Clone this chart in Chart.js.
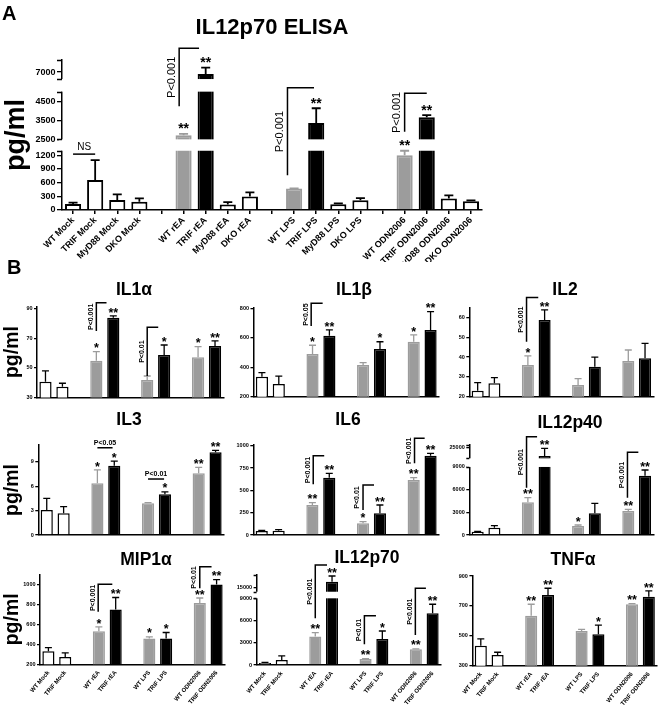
<!DOCTYPE html>
<html>
<head>
<meta charset="utf-8">
<script src="https://cdn.jsdelivr.net/npm/chart.js@4.4.1/dist/chart.umd.min.js"></script>
<style>
  body { margin: 0; background: #fff; }
  #fig { position: relative; width: 661px; height: 708px; overflow: hidden; background: #fff; }
  #fig canvas { position: absolute; }
</style>
</head>
<body>
<div id="fig"></div>
<script>
// =================== DATA: PANEL A (IL12p70 ELISA) ===================
const elisaLabels = ['WT Mock', 'TRIF Mock', 'MyD88 Mock', 'DKO Mock', '',
  'WT rEA', 'TRIF rEA', 'MyD88 rEA', 'DKO rEA', '',
  'WT LPS', 'TRIF LPS', 'MyD88 LPS', 'DKO LPS', '',
  'WT ODN2006', 'TRIF ODN2006', 'MyD88 ODN2006', 'DKO ODN2006'];
const elisaGroup = ['ctrl', 'ctrl', 'ctrl', 'ctrl', null, 'wt', 'trif', 'ctrl', 'ctrl', null,
  'wt', 'trif', 'ctrl', 'ctrl', null, 'wt', 'trif', 'ctrl', 'ctrl'];
const elisaMean = [131, 657, 219, 182, null, 2720, 6900, 118, 298, null, 470, 3367, 125, 215, null, 1200, 3670, 255, 190];
const elisaSem = [29, 438, 125, 74, null, 70, 340, 53, 90, null, 5, 783, 20, 45, null, 100, 120, 65, 20];
const elisaStars = ['', '', '', '', '', '**', '**', '', '', '', '', '**', '', '', '', '**', '**', '', ''];
const elisaTicks = [0, 300, 600, 900, 1200, 2500, 3500, 4500, 7000];
// significance brackets: [from category, to category, low value, high value, label]
const elisaBrackets = [[4.8, 5.7, 4255, 8260, 'P<0.001'], [9.7, 10.9, 760, 5520, 'P<0.001'], [15, 16, 2904, 4947, 'P<0.001']];
const elisaBars = [[0, 1, 1226, 'NS']];

// =================== DATA: PANEL B (cytokines) ===================
const cytoLabels = ['WT Mock', 'TRIF Mock', '', 'WT rEA', 'TRIF rEA', '', 'WT LPS', 'TRIF LPS', '', 'WT ODN2006', 'TRIF ODN2006'];
const cytoGroup = ['ctrl', 'ctrl', null, 'wt', 'trif', null, 'wt', 'trif', null, 'wt', 'trif'];

const il1aMean = [40.6, 37.3, null, 54.8, 83.8, null, 41.8, 58.7, null, 57.1, 64.7];
const il1aSem = [7.3, 2.3, null, 6.1, 1.2, null, 2.7, 6.7, null, 7.2, 3.4];
const il1aStars = ['', '', '', '*', '**', '', '', '*', '', '*', '**'];
const il1aTicks = [30, 50, 70, 90];
const il1aBrackets = [[3, 3.6, 74.8, 93.9, 'P<0.001'], [6, 6.65, 44.5, 77.3, 'P<0.01']];

const il1bMean = [336, 286, null, 490, 614, null, 415, 524, null, 573, 653];
const il1bSem = [27, 54, null, 59, 39, null, 16, 49, null, 46, 124];
const il1bStars = ['', '', '', '*', '**', '', '', '*', '', '*', '**'];
const il1bTicks = [200, 400, 600, 800];
const il1bBrackets = [[2.92, 3.6, 680, 834, 'P<0.05']];

const il2Mean = [23, 26.8, null, 36, 58.8, null, 25.9, 35.2, null, 38.1, 39.4];
const il2Sem = [4.1, 2.8, null, 4.6, 5.1, null, 3.2, 4.8, null, 5.5, 7.6];
const il2Stars = ['', '', '', '*', '**', '', '', '', '', '', ''];
const il2Ticks = [20, 30, 40, 50, 60];
const il2Brackets = [[2.92, 3.62, 47.8, 70.1, 'P<0.001']];

const il3Mean = [3.07, 2.67, null, 6.35, 8.5, null, 3.9, 5.0, null, 7.58, 10.16];
const il3Sem = [1.43, 0.81, null, 1.65, 0.59, null, 0.07, 0.3, null, 0.72, 0.24];
const il3Stars = ['', '', '', '*', '*', '', '', '*', '', '**', '**'];
const il3Ticks = [0, 3, 6, 9];
const il3Bars = [[3, 3.9, 10.72, 'P<0.05'], [6, 6.95, 6.88, 'P<0.01']];

const il6Mean = [45, 48, null, 336, 642, null, 131, 243, null, 616, 888];
const il6Sem = [7, 12, null, 26, 49, null, 18, 93, null, 26, 27];
const il6Stars = ['', '', '', '**', '**', '', '*', '**', '', '**', '**'];
const il6Ticks = [0, 250, 500, 750, 1000];
const il6Brackets = [[3.05, 3.7, 568, 888, 'P<0.001'], [6, 6.65, 280, 560, 'P<0.01'], [9.05, 9.65, 803, 1083, 'P<0.001']];

const il12p40Mean = [440, 970, null, 4330, 21040, null, 1190, 2870, null, 3180, 7850];
const il12p40Sem = [30, 260, null, 610, 3470, null, 130, 1320, null, 220, 750];
const il12p40Stars = ['', '', '', '**', '**', '', '*', '', '', '**', '**'];
const il12p40Ticks = [0, 3000, 6000, 9000, 25000];
const il12p40Brackets = [[2.92, 3.55, 6260, 29744, 'P<0.001'], [8.95, 9.6, 4936, 22706, 'P<0.001']];

const mip1aMean = [330, 274, null, 532, 750, null, 459, 459, null, 815, 1000];
const mip1aSem = [38, 40, null, 43, 120, null, 17, 60, null, 50, 50];
const mip1aStars = ['', '', '', '*', '**', '', '*', '*', '', '**', '**'];
const mip1aTicks = [200, 400, 600, 800, 1000];
const mip1aBrackets = [[2.96, 3.8, 728, 1003, 'P<0.001'], [9, 9.7, 963, 1180, 'P<0.01']];

const il12p70Mean = [280, 680, null, 3830, 18100, null, 810, 3510, null, 2120, 6990];
const il12p70Sem = [70, 540, null, 530, 2900, null, 40, 1080, null, 60, 1210];
const il12p70Stars = ['', '', '', '**', '**', '', '**', '*', '', '**', '**'];
const il12p70Ticks = [0, 3000, 6000, 9000, 15000];
const il12p70Brackets = [[3, 3.7, 6302, 26589, 'P<0.001'], [5.93, 6.62, 2793, 6653, 'P<0.01'], [8.97, 9.6, 4049, 14730, 'P<0.001']];

const tnfaMean = [434, 372, null, 634, 773, null, 532, 510, null, 711, 761];
const tnfaSem = [45, 18, null, 77, 45, null, 11, 62, null, 4, 39];
const tnfaStars = ['', '', '', '**', '**', '', '', '*', '', '**', '**'];
const tnfaTicks = [300, 500, 700, 900];

// =================== STYLE ===================
const FONT = "'Liberation Sans', Arial, sans-serif";
const GRAY = '#9c9c9c';
const FILL = { ctrl: '#ffffff', wt: GRAY, trif: '#000000' };
const EDGE = { ctrl: '#000000', wt: GRAY, trif: '#000000' };

Chart.defaults.font.family = FONT;
Chart.defaults.color = '#000';

const STYLE_A = { barPct: 0.73, barLine: 2, tickFont: 9, tickLen: 5, labelFont: 9, labelRot: 45, xTicks: true,
  errLine: 1.8, cap: 4.5, starFont: 14, starGap: 8.5, pFont: '11px', titleFont: 22, yTitleFont: 27, yTitlePad: 0 };
const STYLE_B = { barPct: 0.72, barLine: 1.5, tickFont: 5.5, tickLen: 3, labelFont: 6, labelRot: 50, xTicks: false,
  errLine: 1.3, cap: 3.5, starFont: 12.5, starGap: 6.5, pFont: 'bold 7px', titleFont: 17.5, yTitleFont: 19.5, yTitlePad: 0.5 };

// =================== BROKEN Y AXIS ===================
function segFraction(segs, v) {
  for (let i = 0; i < segs.length; i++) {
    const s = segs[i];
    if (v <= s.max || i === segs.length - 1) {
      if (i > 0 && v < s.min) {
        const p = segs[i - 1];
        return p.hi + (v - p.max) / (s.min - p.max) * (s.lo - p.hi);
      }
      return s.lo + (v - s.min) / (s.max - s.min) * (s.hi - s.lo);
    }
  }
}

class BrokenScale extends Chart.LinearScale {
  getPixelForValue(value) {
    if (value === null || value === undefined || isNaN(value)) return NaN;
    return this.getPixelForDecimal(segFraction(this.options.segments, value));
  }
}
BrokenScale.id = 'broken';
BrokenScale.defaults = Chart.LinearScale.defaults;
Chart.register(BrokenScale);

// =================== PANELS ===================
const panels = [
  { letter: 'A', letterAt: [2, 14], title: 'IL12p70 ELISA', titleAt: [272, 28], style: STYLE_A,
    box: [0, 0, 500, 262], area: { left: 62, top: 60, right: 482, bottom: 210 },
    labels: elisaLabels, group: elisaGroup, mean: elisaMean, sem: elisaSem, stars: elisaStars,
    ticks: elisaTicks, min: 0, max: 7640, brackets: elisaBrackets, bars: elisaBars, yTitle: true, xLabels: true,
    segments: [{ min: 0, max: 1300, lo: 0, hi: 0.395 }, { min: 2500, max: 5030, lo: 0.471, hi: 0.789 }, { min: 6630, max: 7640, lo: 0.873, hi: 1 }] },

  { letter: 'B', letterAt: [7, 268], title: 'IL1α', titleAt: [134, 290], style: STYLE_B,
    box: [0, 255, 230, 150], area: { left: 37, top: 306.7, right: 223.5, bottom: 397.5 },
    mean: il1aMean, sem: il1aSem, stars: il1aStars, ticks: il1aTicks, min: 30, max: 91.2, brackets: il1aBrackets, yTitle: true },
  { title: 'IL1β', titleAt: [354, 290], style: STYLE_B,
    box: [215, 255, 230, 150], area: { left: 253.5, top: 307.7, right: 439, bottom: 396.7 },
    mean: il1bMean, sem: il1bSem, stars: il1bStars, ticks: il1bTicks, min: 200, max: 804, brackets: il1bBrackets },
  { title: 'IL2', titleAt: [565, 290], style: STYLE_B,
    box: [432, 255, 229, 150], area: { left: 469.3, top: 307.7, right: 653.4, bottom: 396.7 },
    mean: il2Mean, sem: il2Sem, stars: il2Stars, ticks: il2Ticks, min: 20, max: 65, brackets: il2Brackets },

  { title: 'IL3', titleAt: [129, 420], style: STYLE_B,
    box: [0, 405, 230, 135], area: { left: 38.3, top: 445, right: 224, bottom: 535 },
    mean: il3Mean, sem: il3Sem, stars: il3Stars, ticks: il3Ticks, min: 0, max: 11.06, bars: il3Bars, yTitle: true },
  { title: 'IL6', titleAt: [348, 420], style: STYLE_B,
    box: [215, 405, 230, 135], area: { left: 253.3, top: 444.3, right: 439, bottom: 535 },
    mean: il6Mean, sem: il6Sem, stars: il6Stars, ticks: il6Ticks, min: 0, max: 1016, brackets: il6Brackets },
  { title: 'IL12p40', titleAt: [570, 423], style: STYLE_B,
    box: [432, 405, 229, 135], area: { left: 469.3, top: 445, right: 653.4, bottom: 535 },
    mean: il12p40Mean, sem: il12p40Sem, stars: il12p40Stars, ticks: il12p40Ticks, min: 0, max: 26000, brackets: il12p40Brackets,
    segments: [{ min: 0, max: 9000, lo: 0, hi: 0.756 }, { min: 20000, max: 26000, lo: 0.852, hi: 1 }] },

  { title: 'MIP1α', titleAt: [146, 560], style: STYLE_B,
    box: [0, 540, 230, 168], area: { left: 40, top: 574.3, right: 225, bottom: 664.3 },
    mean: mip1aMean, sem: mip1aSem, stars: mip1aStars, ticks: mip1aTicks, min: 200, max: 1103, brackets: mip1aBrackets, yTitle: true, xLabels: true },
  { title: 'IL12p70', titleAt: [367, 558], style: STYLE_B,
    box: [215, 540, 230, 168], area: { left: 256.6, top: 575, right: 441, bottom: 665 },
    mean: il12p70Mean, sem: il12p70Sem, stars: il12p70Stars, ticks: il12p70Ticks, min: 0, max: 21500, brackets: il12p70Brackets, xLabels: true,
    segments: [{ min: 0, max: 9000, lo: 0, hi: 0.741 }, { min: 13000, max: 21500, lo: 0.814, hi: 1 }] },
  { title: 'TNFα', titleAt: [573, 560], style: STYLE_B,
    box: [432, 540, 229, 168], area: { left: 472.4, top: 576, right: 657.2, bottom: 665.7 },
    mean: tnfaMean, sem: tnfaSem, stars: tnfaStars, ticks: tnfaTicks, min: 300, max: 900, xLabels: true },
];

// =================== DECORATION PLUGIN ===================
function decor(p) {
  const s = p.style;
  return {
    id: 'decor',
    afterDatasetsDraw(chart) {
      const { ctx, chartArea: a, scales: { x, y } } = chart;
      const bars = chart.getDatasetMeta(0).data;
      ctx.save();

      // axis breaks
      if (p.segments) {
        ctx.fillStyle = '#fff';
        for (let i = 0; i < p.segments.length - 1; i++) {
          const yLow = y.getPixelForValue(p.segments[i].max);
          const yHigh = y.getPixelForValue(p.segments[i + 1].min);
          ctx.fillRect(a.left - 3, yHigh, a.right - a.left + 3, yLow - yHigh);
        }
        ctx.strokeStyle = '#000';
        ctx.lineWidth = 1.5;
        p.segments.forEach((seg, i) => {
          [seg.min, seg.max].forEach((v, k) => {
            if (i === 0 && k === 0) return;
            const py = Math.round(y.getPixelForValue(v)) + 0.5;
            ctx.beginPath();
            ctx.moveTo(a.left - s.tickLen, py);
            ctx.lineTo(a.left, py);
            ctx.stroke();
          });
        });
      }

      // error bars
      ctx.lineWidth = s.errLine;
      p.mean.forEach((m, i) => {
        if (m === null || !p.sem[i]) return;
        const bx = bars[i].x;
        const y0 = y.getPixelForValue(m);
        const y1 = y.getPixelForValue(m + p.sem[i]);
        ctx.strokeStyle = p.group[i] === 'wt' ? GRAY : '#000';
        ctx.beginPath();
        ctx.moveTo(bx, y0);
        ctx.lineTo(bx, y1);
        ctx.moveTo(bx - s.cap, y1);
        ctx.lineTo(bx + s.cap, y1);
        ctx.stroke();
      });

      // stars
      ctx.fillStyle = '#000';
      ctx.font = `bold ${s.starFont}px ${FONT}`;
      ctx.textAlign = 'center';
      ctx.textBaseline = 'alphabetic';
      p.stars.forEach((st, i) => {
        if (!st) return;
        const top = y.getPixelForValue(p.mean[i] + (p.sem[i] || 0));
        ctx.fillText(st, bars[i].x, top - s.starGap + 0.57 * s.starFont);
      });

      // vertical significance brackets
      ctx.strokeStyle = '#000';
      ctx.lineWidth = 1.5;
      ctx.font = `${s.pFont} ${FONT}`;
      (p.brackets || []).forEach(([c0, c1, lo, hi, label]) => {
        const x0 = x.getPixelForValue(c0), x1 = x.getPixelForValue(c1);
        const y0 = y.getPixelForValue(lo), y1 = y.getPixelForValue(hi);
        ctx.beginPath();
        ctx.moveTo(x0, y0);
        ctx.lineTo(x0, y1);
        ctx.lineTo(x1, y1);
        ctx.stroke();
        ctx.save();
        ctx.translate(x0 - 2, (y0 + y1) / 2);
        ctx.rotate(-Math.PI / 2);
        ctx.textAlign = 'center';
        ctx.textBaseline = 'bottom';
        ctx.fillText(label, 0, 0);
        ctx.restore();
      });

      // horizontal bars with a label on top
      (p.bars || []).forEach(([c0, c1, at, label]) => {
        const x0 = x.getPixelForValue(c0), x1 = x.getPixelForValue(c1);
        const yy = y.getPixelForValue(at);
        ctx.beginPath();
        ctx.moveTo(x0, yy);
        ctx.lineTo(x1, yy);
        ctx.stroke();
        ctx.textAlign = 'center';
        ctx.textBaseline = 'bottom';
        ctx.font = label === 'NS' ? `10px ${FONT}` : `${s.pFont} ${FONT}`;
        ctx.fillText(label, (x0 + x1) / 2, yy - 1.5);
      });

      // panel title and letter
      ctx.textAlign = 'center';
      ctx.textBaseline = 'middle';
      ctx.font = `bold ${s.titleFont}px ${FONT}`;
      ctx.fillText(p.title, p.titleAt[0] - p.box[0], p.titleAt[1] - p.box[1]);
      if (p.letter) {
        ctx.textAlign = 'left';
        ctx.font = `bold 20px ${FONT}`;
        ctx.fillText(p.letter, p.letterAt[0] - p.box[0], p.letterAt[1] - p.box[1]);
      }
      ctx.restore();
    }
  };
}

// =================== BUILD CHARTS ===================
const fig = document.getElementById('fig');

function makeChart(p) {
  const s = p.style;
  const labels = p.labels || cytoLabels;
  p.group = p.group || cytoGroup;
  const [bx, by, bw, bh] = p.box;

  const cv = document.createElement('canvas');
  cv.width = bw;
  cv.height = bh;
  cv.style.left = bx + 'px';
  cv.style.top = by + 'px';
  fig.appendChild(cv);

  new Chart(cv, {
    type: 'bar',
    data: {
      labels: labels,
      datasets: [{
        data: p.mean,
        backgroundColor: p.group.map(g => FILL[g] || 'transparent'),
        borderColor: p.group.map(g => EDGE[g] || 'transparent'),
        borderWidth: s.barLine,
        barPercentage: s.barPct,
        categoryPercentage: 1
      }]
    },
    options: {
      responsive: false,
      animation: false,
      events: [],
      layout: { padding: { left: 0, top: p.area.top - by, right: bx + bw - p.area.right, bottom: 0 } },
      plugins: { legend: { display: false }, tooltip: { enabled: false }, title: { display: false } },
      scales: {
        x: {
          grid: { display: s.xTicks, offset: false, drawOnChartArea: false, tickLength: 4, color: '#000', lineWidth: 1.5 },
          border: { display: true, color: '#000', width: 1.5 },
          ticks: {
            display: !!p.xLabels, autoSkip: false, maxRotation: s.labelRot, minRotation: s.labelRot,
            padding: 1, color: '#000', font: { size: s.labelFont, weight: 'bold' }
          },
          afterFit: sc => { sc.height = by + bh - p.area.bottom; }
        },
        y: {
          type: p.segments ? 'broken' : 'linear',
          segments: p.segments,
          min: p.min,
          max: p.max,
          afterBuildTicks: sc => { sc.ticks = p.ticks.map(v => ({ value: v })); },
          afterFit: sc => { sc.width = p.area.left - bx; },
          grid: { drawOnChartArea: false, tickLength: s.tickLen, color: '#000', lineWidth: 1.3 },
          border: { display: true, color: '#000', width: 1.5 },
          ticks: {
            autoSkip: false, padding: 1.5, color: '#000',
            font: { size: s.tickFont, weight: 'bold' },
            callback: v => String(v)
          },
          title: {
            display: !!p.yTitle, text: 'pg/ml', color: '#000',
            font: { size: s.yTitleFont, weight: 'bold' },
            padding: { top: s.yTitlePad, bottom: 0 }
          }
        }
      }
    },
    plugins: [decor(p)]
  });
}

panels.forEach(makeChart);
</script>
</body>
</html>
